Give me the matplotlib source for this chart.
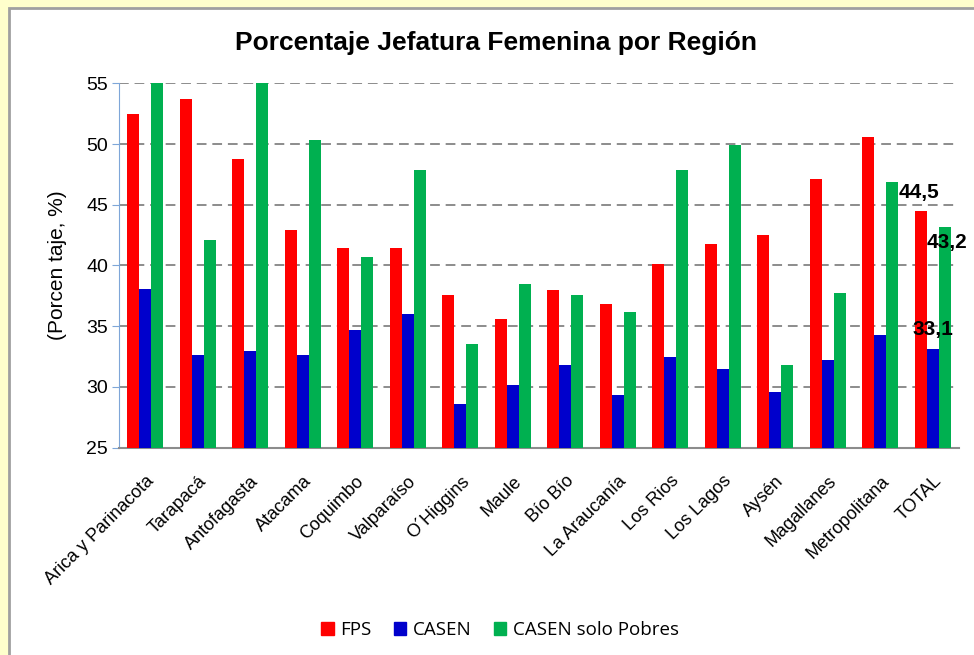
import numpy as np
import matplotlib.pyplot as plt
from matplotlib.patches import Rectangle, Patch

regiones = ['Arica y Parinacota', 'Tarapacá', 'Antofagasta', 'Atacama', 'Coquimbo',
            'Valparaíso', 'O´Higgins', 'Maule', 'Bío Bío', 'La Araucanía', 'Los Rios',
            'Los Lagos', 'Aysén', 'Magallanes', 'Metropolitana', 'TOTAL']
fps = [52.5, 53.7, 48.8, 42.9, 41.4, 41.4, 37.6, 35.6, 38.0, 36.8, 40.1, 41.8, 42.5, 47.1, 50.6, 44.5]
casen = [38.1, 32.6, 33.0, 32.6, 34.7, 36.0, 28.6, 30.2, 31.8, 29.3, 32.5, 31.5, 29.6, 32.2, 34.3, 33.1]
casen_pobres = [56.0, 42.1, 56.0, 50.3, 40.7, 47.9, 33.5, 38.5, 37.6, 36.2, 47.9, 49.9, 31.8, 37.7, 46.9, 43.2]
yticks = [25, 30, 35, 40, 45, 50, 55]

fig = plt.figure(figsize=(9.74, 6.55), dpi=100)
fig.patch.set_facecolor('#FFFFCC')
fig.patches.append(Rectangle((9 / 974, -0.01), 1.0, 1 - 8 / 655 + 0.01, transform=fig.transFigure,
                             facecolor='white', edgecolor='#A0A0A0', linewidth=2, zorder=-10))

ax = fig.add_axes([119 / 974, 1 - 447.7 / 655, 840 / 974, (447.7 - 83.3) / 655])
ax.set_facecolor('none')

x = np.arange(len(regiones))
w = 0.229
b1 = ax.bar(x - w, fps, w, color='#FF0000', label='FPS', zorder=3)
b2 = ax.bar(x, casen, w, color='#0000CC', label='CASEN', zorder=3)
b3 = ax.bar(x + w, casen_pobres, w, color='#00B050', label='CASEN solo Pobres', zorder=3)

ax.set_xlim(-0.5, len(regiones) - 0.5)
ax.set_ylim(25, 55)
ax.set_yticks(yticks)
ax.yaxis.grid(True, linestyle=(0, (5, 3)), color='#8C8C8C', linewidth=1.4, zorder=1)

for s in ['top', 'right']:
    ax.spines[s].set_visible(False)
ax.spines['left'].set_color('#7EA6D8')
ax.spines['bottom'].set_color('#8C8C8C')
ax.spines['bottom'].set_linewidth(1.5)

ax.tick_params(axis='y', colors='#7EA6D8', length=5, labelcolor='black', labelsize=14, pad=3)
ax.tick_params(axis='x', length=0, labelsize=13, pad=18)
ax.set_xticks(x)
ax.set_xticklabels(regiones, rotation=45, ha='right', rotation_mode='anchor')
for t in ax.get_yticklabels() + ax.get_xticklabels():
    t.set_fontfamily('Liberation Sans')

ax.set_ylabel('(Porcen taje, %)', fontsize=15, family='Liberation Sans', labelpad=14)

fig.text(496 / 974, 1 - 43 / 655, 'Porcentaje Jefatura Femenina por Región', ha='center', va='center',
         fontsize=19, fontweight='bold', family='Liberation Sans')

# etiquetas del TOTAL
i = len(regiones) - 1
lab = dict(fontsize=15, fontweight='bold', family='Liberation Sans', ha='center', va='center',
           textcoords='offset pixels', zorder=5, annotation_clip=False)
ax.annotate('44,5', (x[i] - w, fps[i]), xytext=(-2, 18), **lab)
ax.annotate('43,2', (x[i] + w, casen_pobres[i]), xytext=(2, -16), **lab)
ax.annotate('33,1', (x[i], casen[i]), xytext=(0, 20), **lab)

handles = [Patch(color='#FF0000'), Patch(color='#0000CC'), Patch(color='#00B050')]
fig.legend(handles, ['FPS', 'CASEN', 'CASEN solo Pobres'], loc='center', bbox_to_anchor=(500 / 974, 1 - 630 / 655),
           ncol=3, frameon=False, handlelength=0.65, handleheight=0.65, handletextpad=0.35, columnspacing=1.2,
           prop={'family': 'Open Sans', 'size': 13.5})

fig.savefig('out.png', dpi=100, facecolor=fig.get_facecolor())
